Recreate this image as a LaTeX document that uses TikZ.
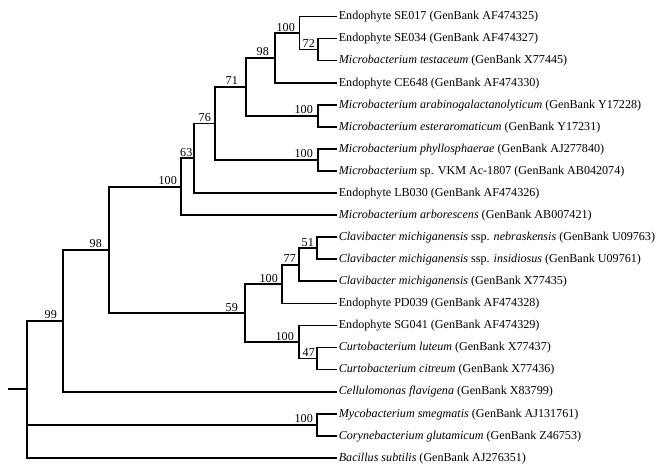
\documentclass[tikz,border=0pt]{standalone}
\usepackage{fontspec}
\setmainfont{Liberation Serif}
\begin{document}
\begin{tikzpicture}[x=1pt,y=-1pt,
  br/.style={line width=1.7pt, line cap=rect},
  leaf/.style={anchor=west, inner xsep=2.6pt, inner ysep=0pt, text height=0.66em, text depth=0pt, font=\fontsize{12.1}{14}\selectfont},
  lab/.style={anchor=base east, inner sep=0pt, font=\fontsize{12.1}{14}\selectfont}]
\useasboundingbox (0,0) rectangle (660,471);
% leaves
\node[leaf] (L0) at (336,16.5) {Endophyte SE017 (GenBank AF474325)};
\node[leaf] (L1) at (336,38.57) {Endophyte SE034 (GenBank AF474327)};
\node[leaf] (L2) at (336,60.64) {\textit{Microbacterium testaceum} (GenBank X77445)};
\node[leaf] (L3) at (336,82.71) {Endophyte CE648 (GenBank AF474330)};
\node[leaf] (L4) at (336,104.78) {\textit{Microbacterium arabinogalactanolyticum} (GenBank Y17228)};
\node[leaf] (L5) at (336,126.85) {\textit{Microbacterium esteraromaticum} (GenBank Y17231)};
\node[leaf] (L6) at (336,148.92) {\textit{Microbacterium phyllosphaerae} (GenBank AJ277840)};
\node[leaf] (L7) at (336,170.99) {\textit{Microbacterium} sp. VKM Ac-1807 (GenBank AB042074)};
\node[leaf] (L8) at (336,193.06) {Endophyte LB030 (GenBank AF474326)};
\node[leaf] (L9) at (336,215.13) {\textit{Microbacterium arborescens} (GenBank AB007421)};
\node[leaf] (L10) at (336,237.2) {\textit{Clavibacter michiganensis} ssp. \textit{nebraskensis} (GenBank U09763)};
\node[leaf] (L11) at (336,259.27) {\textit{Clavibacter michiganensis} ssp. \textit{insidiosus} (GenBank U09761)};
\node[leaf] (L12) at (336,281.34) {\textit{Clavibacter michiganensis} (GenBank X77435)};
\node[leaf] (L13) at (336,303.41) {Endophyte PD039 (GenBank AF474328)};
\node[leaf] (L14) at (336,325.48) {Endophyte SG041 (GenBank AF474329)};
\node[leaf] (L15) at (336,347.55) {\textit{Curtobacterium luteum} (GenBank X77437)};
\node[leaf] (L16) at (336,369.62) {\textit{Curtobacterium citreum} (GenBank X77436)};
\node[leaf] (L17) at (336,391.69) {\textit{Cellulomonas flavigena} (GenBank X83799)};
\node[leaf] (L18) at (336,413.76) {\textit{Mycobacterium smegmatis} (GenBank AJ131761)};
\node[leaf] (L19) at (336,435.83) {\textit{Corynebacterium glutamicum} (GenBank Z46753)};
\node[leaf] (L20) at (336,457.9) {\textit{Bacillus subtilis} (GenBank AJ276351)};
% internal nodes
\coordinate (n72) at (318,49.6);
\coordinate (n100a) at (299.5,33.05);
\coordinate (n98a) at (275,57.88);
\coordinate (n100b) at (318,115.8);
\coordinate (n71) at (246,86.84);
\coordinate (n100c) at (318,159.96);
\coordinate (n76) at (215,123.4);
\coordinate (n63) at (194,158.23);
\coordinate (n100d) at (181,186.68);
\coordinate (n51) at (317,248.24);
\coordinate (n77) at (299,264.79);
\coordinate (n100e) at (282,284.1);
\coordinate (n47) at (317,358.59);
\coordinate (n100f) at (299,342.03);
\coordinate (n59) at (245,313.07);
\coordinate (n98b) at (109,249.88);
\coordinate (n99a) at (63,320.78);
\coordinate (n100g) at (317,424.8);
\coordinate (root) at (27,389.34);
\coordinate (stub) at (9,389.34);
% branches
\draw[br] (L1.west) -| (n72) |- (L2.west);
\draw[br] (L0.west) -| (n100a) |- (n72);
\draw[br] (n100a) -| (n98a) |- (L3.west);
\draw[br] (L4.west) -| (n100b) |- (L5.west);
\draw[br] (n98a) -| (n71) |- (n100b);
\draw[br] (L6.west) -| (n100c) |- (L7.west);
\draw[br] (n71) -| (n76) |- (n100c);
\draw[br] (n76) -| (n63) |- (L8.west);
\draw[br] (n63) -| (n100d) |- (L9.west);
\draw[br] (L10.west) -| (n51) |- (L11.west);
\draw[br] (n51) -| (n77) |- (L12.west);
\draw[br] (n77) -| (n100e) |- (L13.west);
\draw[br] (L15.west) -| (n47) |- (L16.west);
\draw[br] (L14.west) -| (n100f) |- (n47);
\draw[br] (n100e) -| (n59) |- (n100f);
\draw[br] (n100d) -| (n98b) |- (n59);
\draw[br] (n98b) -| (n99a) |- (L17.west);
\draw[br] (L18.west) -| (n100g) |- (L19.west);
\draw[br] (n99a) -| (root) |- (L20.west);
\draw[br] (root) |- (n100g);
\draw[br] (stub) -- (root);
% bootstrap labels
\node[lab] (b72) at ([xshift=-3pt,yshift=2pt]n72) {72};
\node[lab] (b100a) at ([xshift=-4.5pt,yshift=2pt]n100a) {100};
\node[lab] (b98a) at ([xshift=-6pt,yshift=2pt]n98a) {98};
\node[lab] (b100b) at ([xshift=-5pt,yshift=2pt]n100b) {100};
\node[lab] (b71) at ([xshift=-8pt,yshift=2pt]n71) {71};
\node[lab] (b100c) at ([xshift=-5pt,yshift=2pt]n100c) {100};
\node[lab] (b76) at ([xshift=-4pt,yshift=2pt]n76) {76};
\node[lab] (b63) at ([xshift=-1.5pt,yshift=2pt]n63) {63};
\node[lab] (b100d) at ([xshift=-4pt,yshift=2pt]n100d) {100};
\node[lab] (b51) at ([xshift=-3pt,yshift=2pt]n51) {51};
\node[lab] (b77) at ([xshift=-3pt,yshift=2pt]n77) {77};
\node[lab] (b100e) at ([xshift=-4pt,yshift=2pt]n100e) {100};
\node[lab] (b47) at ([xshift=-2pt,yshift=2pt]n47) {47};
\node[lab] (b100f) at ([xshift=-5pt,yshift=2pt]n100f) {100};
\node[lab] (b59) at ([xshift=-7pt,yshift=2pt]n59) {59};
\node[lab] (b98b) at ([xshift=-7pt,yshift=2pt]n98b) {98};
\node[lab] (b99a) at ([xshift=-6pt,yshift=2pt]n99a) {99};
\node[lab] (b100g) at ([xshift=-4pt,yshift=2pt]n100g) {100};
\end{tikzpicture}
\end{document}
